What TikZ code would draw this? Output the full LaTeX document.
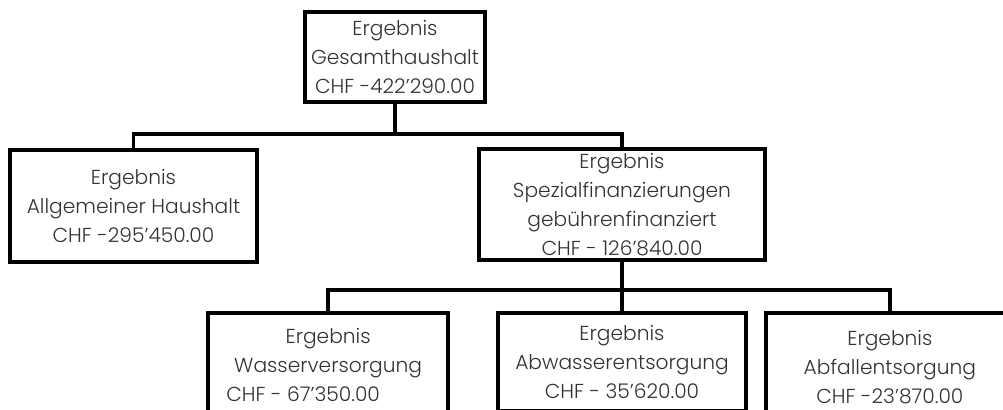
\documentclass[tikz,border=0pt]{standalone}
\usepackage{fontspec}
\setmainfont{Poppins}[UprightFont=* Light]
\usepackage{tikz}
\usetikzlibrary{positioning}
\tikzstyle{ergebnis} = [rectangle, draw=black, line width=2.2pt, align=center, text=black!80, font=\fontsize{11.5}{16.5}\selectfont, inner sep=0pt]
\tikzstyle{line} = [line width=2.2pt]

\begin{document}
\begin{tikzpicture}
\useasboundingbox (0,0) rectangle (20.06,-8.2);

\node (gesamt) [ergebnis, minimum width=3.6cm, minimum height=1.8cm] at (7.9,-1.14) {Ergebnis\\Gesamthaushalt\\CHF -422'290.00};
\node (allgemein) [ergebnis, minimum width=4.94cm, minimum height=2.24cm] at (2.67,-4.12) {Ergebnis\\Allgemeiner Haushalt\\CHF -295'450.00};
\node (spezial) [ergebnis, minimum width=5.72cm, minimum height=2.22cm] at (12.44,-4.09) {Ergebnis\\Spezialfinanzierungen\\gebührenfinanziert\\CHF - 126'840.00};
\node (abwasser) [ergebnis, minimum width=4.96cm, minimum height=1.96cm, below=0.98cm of spezial] {Ergebnis\\Abwasserentsorgung\\CHF - 35'620.00};
\node (wasser) [ergebnis, minimum width=4.8cm, minimum height=2.08cm, left=0.92cm of abwasser.north west, anchor=north east] {Ergebnis\\Wasserversorgung\\CHF - 67'350.00\hspace*{1.0cm}};
\node (abfall) [ergebnis, minimum width=4.96cm, minimum height=2.16cm, right=0.32cm of abwasser.north east, anchor=north west] {Ergebnis\\Abfallentsorgung\\CHF -23'870.00};

\draw [line] (gesamt.south) -- ++(0,-0.6) coordinate (top split);
\draw [line] (top split) -| (allgemein.north);
\draw [line] (top split) -| (spezial.north);
\draw [line] (spezial.south) -- ++(0,-0.56) coordinate (bottom split);
\draw [line] (bottom split) -| (wasser.north);
\draw [line] (bottom split) -| (abwasser.north);
\draw [line] (bottom split) -| (abfall.north);

\end{tikzpicture}
\end{document}
